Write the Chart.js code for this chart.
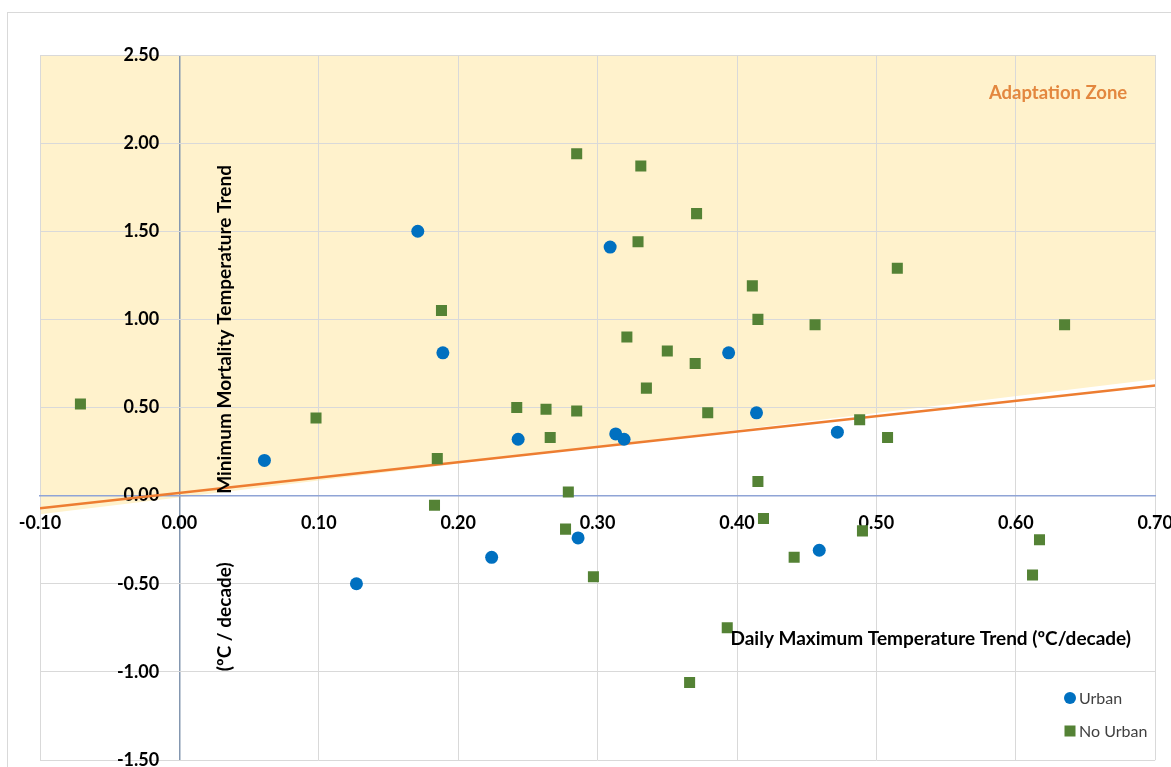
<!DOCTYPE html>
<html>
<head>
<meta charset="utf-8">
<script src="https://cdn.jsdelivr.net/npm/chart.js@4.4.0/dist/chart.umd.min.js"></script>
<style>
body { margin: 0; overflow: hidden; background: #fff; }
</style>
</head>
<body>
<canvas id="myChart" width="1190" height="790"></canvas>
<script>
/* values */
var urban_x = [0.061, 0.171, 0.189, 0.127, 0.243, 0.224, 0.309, 0.313, 0.319, 0.286, 0.394, 0.414, 0.472, 0.459];
var urban_y = [0.20, 1.50, 0.81, -0.50, 0.32, -0.35, 1.41, 0.35, 0.32, -0.24, 0.81, 0.47, 0.36, -0.31];

var nourban_x = [-0.071, 0.098, 0.188, 0.185, 0.183, 0.242, 0.263, 0.266, 0.285, 0.285, 0.279, 0.277,
	0.297, 0.331, 0.329, 0.321, 0.350, 0.335, 0.371, 0.370, 0.379, 0.411, 0.415, 0.415, 0.419,
	0.441, 0.456, 0.488, 0.490, 0.508, 0.515, 0.617, 0.612, 0.635, 0.393, 0.366];
var nourban_y = [0.52, 0.44, 1.05, 0.21, -0.055, 0.50, 0.49, 0.33, 0.48, 1.94, 0.02, -0.19,
	-0.46, 1.87, 1.44, 0.90, 0.82, 0.61, 1.60, 0.75, 0.47, 1.19, 1.00, 0.08, -0.13,
	-0.35, 0.97, 0.43, -0.20, 0.33, 1.29, -0.25, -0.45, 0.97, -0.75, -1.06];

/* trend line and the shaded adaptation zone boundary */
var trend_x = [-0.10, 0.70];
var trend_y = [-0.072, 0.625];
var zone_x = [-0.10, 0.70];
var zone_y = [-0.106, 0.66];

var x_ticks = [-0.10, 0.00, 0.10, 0.20, 0.30, 0.40, 0.50, 0.60, 0.70];
var y_ticks = [-1.50, -1.00, -0.50, 0.00, 0.50, 1.00, 1.50, 2.00, 2.50];

var series_labels = ['Urban', 'No Urban'];
var x_title = 'Daily Maximum Temperature Trend (ºC/decade)';
var y_title = ['Minimum Mortality Temperature Trend', '(ºC / decade)'];
var zone_label = 'Adaptation Zone';

var FONT = 'Lato, "Open Sans", sans-serif';
var grid_color = '#d9d9d9';

function pairs(xs, ys) {
	var out = [];
	for (var i = 0; i < xs.length; i++)
		out.push({x: xs[i], y: ys[i]});
	return out;
}

function zeroColor(color) {
	return function(c) {
		if (c.tick && Math.abs(c.tick.value) < 1e-9)
			return color;
		return grid_color;
	};
}

/* titles, zone label, legend and outer frame */
var extras = {
	id: 'extras',
	afterDraw: function(chart) {
		var ctx = chart.ctx;
		var xs = chart.scales.x;
		var ys = chart.scales.y;
		ctx.save();

		ctx.strokeStyle = '#d9d9d9';
		ctx.lineWidth = 1;
		ctx.strokeRect(7.5, 12.5, 1300, 900);

		ctx.fillStyle = '#e3873f';
		ctx.font = 'bold 18.5px ' + FONT;
		ctx.textAlign = 'right';
		ctx.textBaseline = 'middle';
		ctx.fillText(zone_label, xs.getPixelForValue(0.70) - 28, ys.getPixelForValue(2.286));

		ctx.fillStyle = '#000';
		ctx.font = 'bold 19px ' + FONT;
		ctx.textAlign = 'center';
		ctx.fillText(x_title, xs.getPixelForValue(0.539), ys.getPixelForValue(-0.815));

		var tx = xs.getPixelForValue(0.0323);
		var ty = [ys.getPixelForValue(0.943), ys.getPixelForValue(-0.687)];
		for (var i = 0; i < y_title.length; i++) {
			ctx.save();
			ctx.translate(tx, ty[i]);
			ctx.rotate(-Math.PI / 2);
			ctx.fillText(y_title[i], 0, 0);
			ctx.restore();
		}

		/* legend */
		ctx.font = '16px ' + FONT;
		ctx.textAlign = 'left';
		var lx = 1070;
		var ly = [698, 731];
		for (var j = 0; j < series_labels.length; j++) {
			var ds = chart.data.datasets[j];
			ctx.fillStyle = ds.backgroundColor;
			if (ds.pointStyle == 'circle') {
				ctx.beginPath();
				ctx.arc(lx, ly[j], 6, 0, Math.PI * 2);
				ctx.fill();
			} else {
				ctx.fillRect(lx - 5.5, ly[j] - 5.5, 11, 11);
			}
			ctx.fillStyle = '#404040';
			ctx.fillText(series_labels[j], lx + 9, ly[j] + 1);
		}
		ctx.restore();
	}
};

var ctx = document.getElementById('myChart').getContext('2d');
var graph = new Chart(ctx, {
	type: 'scatter',
	data: {
		datasets: [{
			label: series_labels[0],
			data: pairs(urban_x, urban_y),
			pointStyle: 'circle',
			radius: 6.5,
			backgroundColor: '#0070c0',
			borderWidth: 0,
			order: 0
		}, {
			label: series_labels[1],
			data: pairs(nourban_x, nourban_y),
			pointStyle: 'rect',
			radius: 7.8,
			backgroundColor: '#548235',
			borderWidth: 0,
			order: 1
		}, {
			type: 'line',
			label: 'trend',
			data: pairs(trend_x, trend_y),
			borderColor: '#ed7d31',
			borderWidth: 2.5,
			pointRadius: 0,
			fill: false,
			order: 2
		}, {
			type: 'line',
			label: 'zone',
			data: pairs(zone_x, zone_y),
			borderColor: 'rgba(0,0,0,0)',
			borderWidth: 0,
			backgroundColor: '#fff2cc',
			pointRadius: 0,
			fill: 'end',
			order: 3
		}]
	},
	options: {
		responsive: false,
		animation: false,
		events: [],
		layout: {
			padding: {left: 40, top: 55, right: 34, bottom: 30}
		},
		plugins: {
			legend: {display: false},
			tooltip: {enabled: false},
			filler: {drawTime: 'beforeDraw'}
		},
		scales: {
			x: {
				type: 'linear',
				min: -0.10,
				max: 0.70,
				position: {y: 0},
				afterBuildTicks: function(scale) {
					scale.ticks = x_ticks.map(function(v) { return {value: v}; });
				},
				ticks: {
					padding: 17,
					color: '#000',
					font: {family: FONT, size: 18, weight: 'bold'},
					maxRotation: 0,
					callback: function(v) { return v.toFixed(2); }
				},
				grid: {color: zeroColor('#8497b0'), drawTicks: false, lineWidth: zeroWidth},
				border: {color: '#8fa4d6', width: 1.5}
			},
			y: {
				type: 'linear',
				min: -1.50,
				max: 2.50,
				/* labels sit just left of the x = 0 line; the line itself is the x grid line at 0 */
				position: {x: -0.0145},
				afterBuildTicks: function(scale) {
					scale.ticks = y_ticks.map(function(v) { return {value: v}; });
				},
				ticks: {
					color: '#000',
					font: {family: FONT, size: 18, weight: 'bold'},
					callback: function(v) { return v.toFixed(2); }
				},
				grid: {color: zeroColor('#8fa4d6'), drawTicks: false, lineWidth: 1},
				border: {display: false}
			}
		}
	},
	plugins: [extras]
});

function zeroWidth(c) {
	if (c.tick && Math.abs(c.tick.value) < 1e-9)
		return 1.5;
	return 1;
}
</script>
</body>
</html>
